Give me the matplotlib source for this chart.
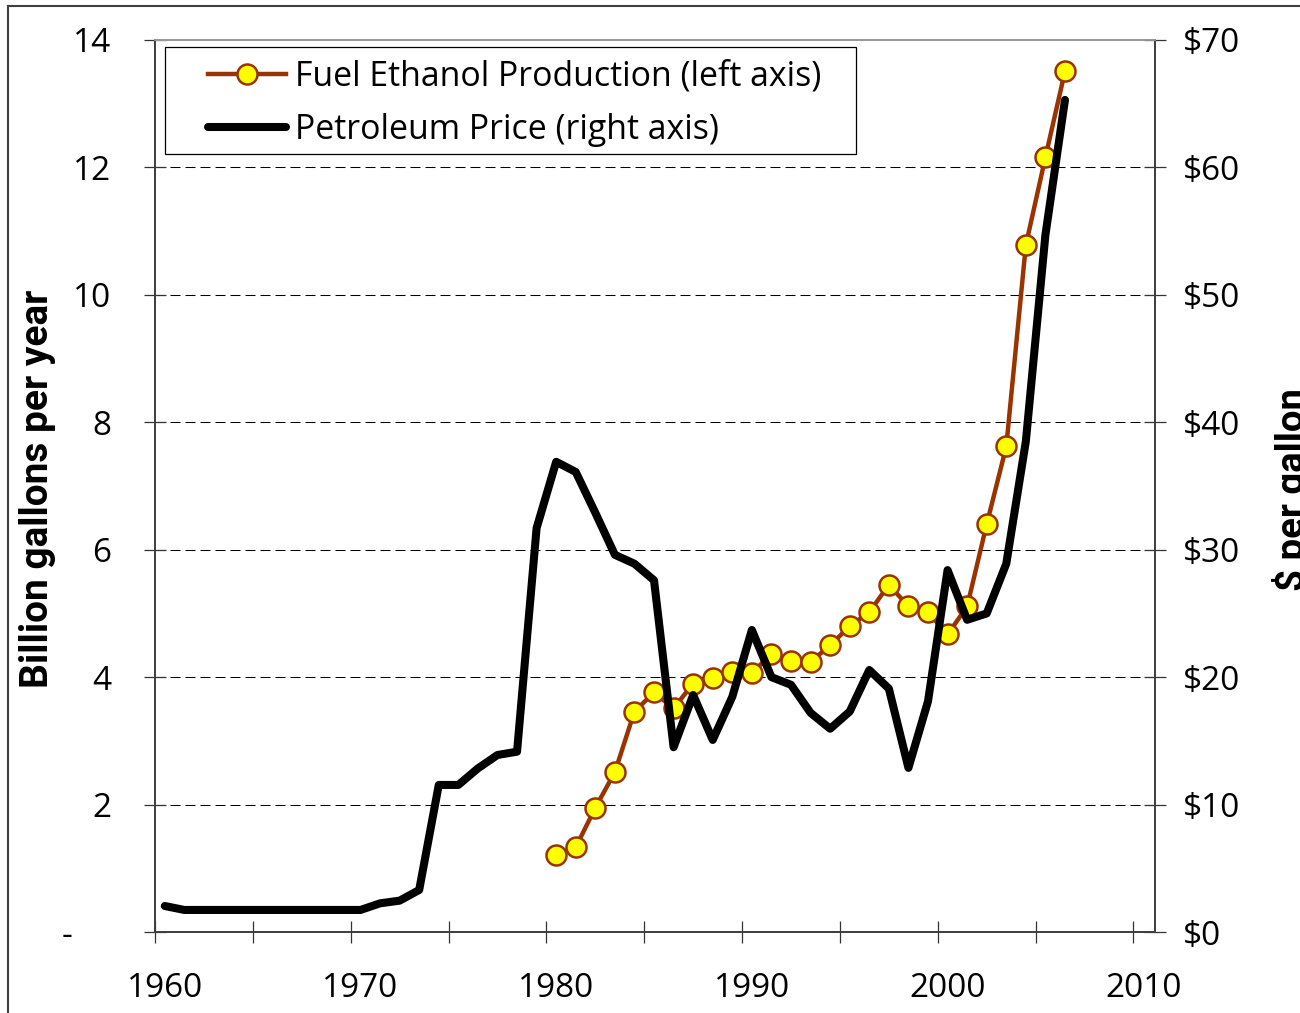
import numpy as np
import matplotlib.pyplot as plt
from matplotlib.lines import Line2D
from matplotlib.patches import Rectangle

# fuel ethanol production, billion gallons per year (left axis)
eth_years = list(range(1980, 2007))
eth_prod = [1.21, 1.33, 1.95, 2.51, 3.46, 3.76, 3.51, 3.90, 3.98, 4.08,
            4.06, 4.37, 4.26, 4.24, 4.50, 4.80, 5.02, 5.45, 5.11, 5.02,
            4.67, 5.11, 6.40, 7.62, 10.78, 12.16, 13.51]

# petroleum price (right axis)
oil_years = list(range(1960, 2007))
oil_price = [2.04, 1.73, 1.73, 1.73, 1.73, 1.73, 1.73, 1.73, 1.73, 1.73,
             1.73, 2.25, 2.46, 3.30, 11.54, 11.54, 12.84, 13.89, 14.15, 31.7,
             36.9, 36.1, 32.9, 29.6, 28.9, 27.6, 14.5, 18.6, 15.07, 18.46,
             23.7, 20.0, 19.4, 17.2, 15.95, 17.3, 20.56, 19.1, 12.88, 18.1,
             28.4, 24.5, 25.0, 28.9, 38.5, 54.7, 65.3]

left_ticks = [0, 2, 4, 6, 8, 10, 12, 14]
left_labels = ['-\u2007\u2007', '2', '4', '6', '8', '10', '12', '14']
right_ticks = [0, 10, 20, 30, 40, 50, 60, 70]
right_labels = ['$0', '$10', '$20', '$30', '$40', '$50', '$60', '$70']
year_ticks = [1960, 1970, 1980, 1990, 2000, 2010]

plt.rcParams['font.family'] = ['Open Sans', 'DejaVu Sans']

fig = plt.figure(figsize=(13, 10.13), dpi=100)
ax1 = fig.add_axes([155/1300, 1 - 932/1013, 1000/1300, 892/1013])
ax2 = ax1.twinx()

eth_line, = ax1.plot(eth_years, eth_prod, color='#993300', lw=3.2,
                     marker='o', ms=14.4, mfc='#FFFF00', mec='#993300', mew=1.8,
                     label='Fuel Ethanol Production (left axis)')
oil_line, = ax2.plot(oil_years, oil_price, color='black', lw=5.8,
                     solid_capstyle='round',
                     label='Petroleum Price (right axis)')

ax1.set_xlim(1959.5, 2010.6)
ax1.set_ylim(0, 14)
ax2.set_ylim(0, 70)

ax1.set_xticks(year_ticks)
ax1.set_xticks(np.arange(1959.5, 2010, 5), minor=True)
ax1.set_yticks(left_ticks)
ax1.set_yticklabels(left_labels)
ax2.set_yticks(right_ticks)
ax2.set_yticklabels(right_labels)

tick_col = '#333333'
ax1.tick_params(axis='x', which='major', length=0, pad=29, labelsize=24)
ax1.tick_params(axis='x', which='minor', direction='inout', length=16.5,
                width=0.9, color=tick_col)
ax1.tick_params(axis='y', direction='inout', length=16.5, width=0.9,
                color=tick_col, pad=23, labelsize=24)
ax2.tick_params(axis='y', direction='inout', length=16.5, width=0.9,
                color=tick_col, pad=12, labelsize=24)

ax1.grid(axis='y', color='black', lw=0.75, linestyle=(0, (9.6, 4.8)))
gl = ax1.yaxis.get_gridlines()
gl[0].set_visible(False)
gl[-1].set_visible(False)

for ax in (ax1, ax2):
    for side in ('left', 'right', 'bottom'):
        ax.spines[side].set_color('#404040')
        ax.spines[side].set_linewidth(1.3)
    ax.spines['top'].set_color('#999999')
    ax.spines['top'].set_linewidth(1.3)

# legend box
ax2.add_patch(Rectangle((10/1000, 1 - 114/892), 691/1000, 107/892,
                        transform=ax2.transAxes, facecolor='white',
                        edgecolor='black', lw=0.9, zorder=5))
leg = ax2.legend(handles=[eth_line, oil_line], loc='upper left',
                 bbox_to_anchor=(53/1000, 1 - 20/892), borderaxespad=0,
                 borderpad=0, frameon=False, fontsize=24.4, handlelength=2.3,
                 handletextpad=0.28, labelspacing=0.56)
leg.set_zorder(6)

fig.text(38/1300, 1 - 489/1013, 'Billion gallons per year', rotation=90,
         ha='center', va='center', fontsize=28, fontweight='bold',
         family=['Liberation Sans Narrow', 'Roboto'])
fig.text(1272/1300, 1 - 490/1013, '$ per gallon', rotation=90,
         ha='left', va='center', fontsize=27.5, fontweight='bold',
         family=['Liberation Sans Narrow', 'Roboto'])

# outer frame
fig.add_artist(Line2D([8/1300, 8/1300], [0, 1 - 6/1013], color='#404040', lw=1.5))
fig.add_artist(Line2D([8/1300, 1], [1 - 6/1013, 1 - 6/1013], color='#404040', lw=1.5))

fig.savefig('out.png', dpi=100)
